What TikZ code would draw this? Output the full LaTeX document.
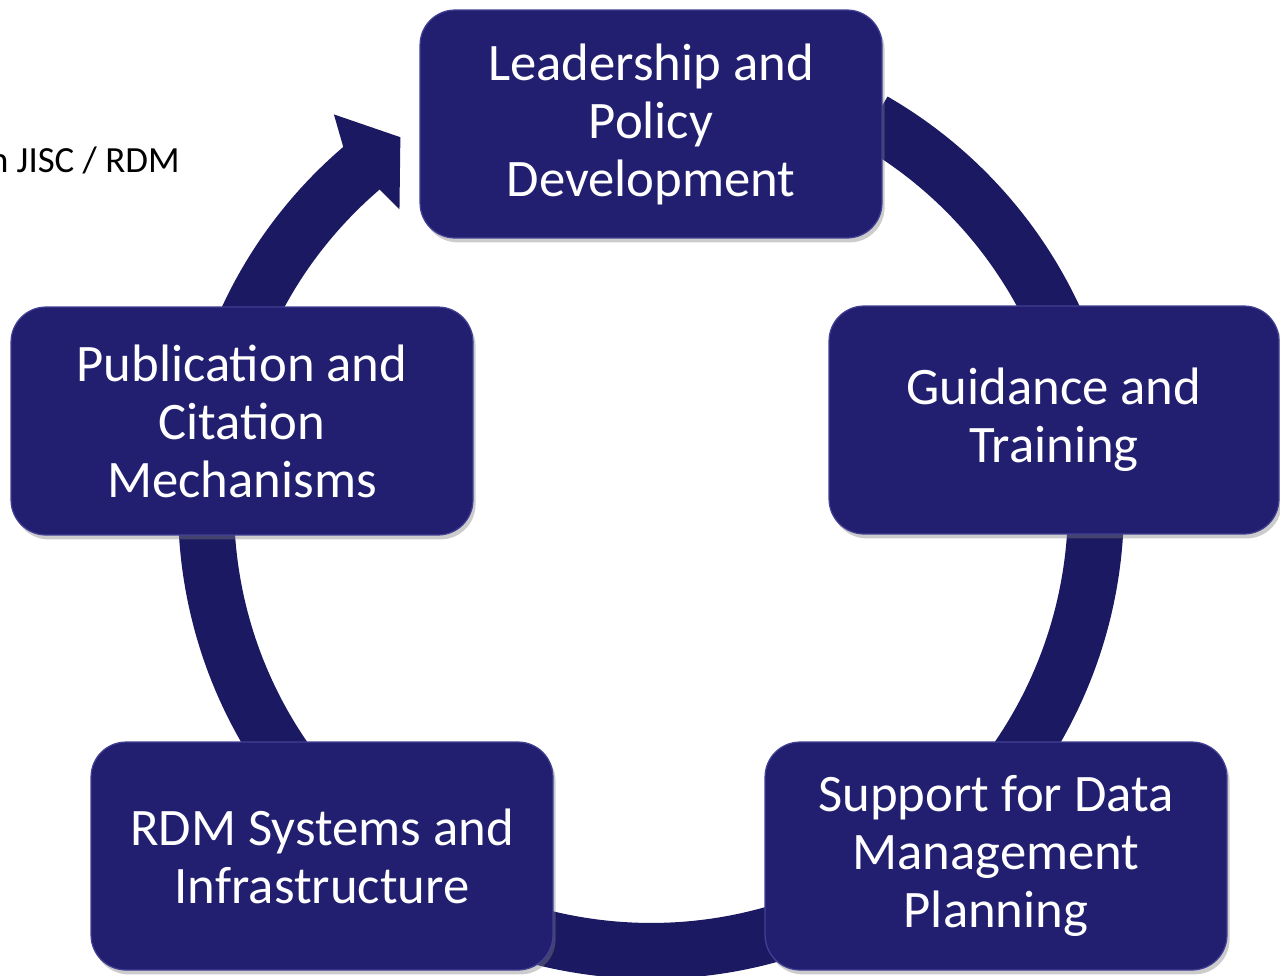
\documentclass[tikz,border=0pt]{standalone}
\usepackage{fontspec}
\setmainfont{Carlito}
\usepackage{xcolor}
\usepackage{tikz}
\usetikzlibrary{positioning, calc, shadows}
\definecolor{ringblue}{RGB}{28,25,99}
\definecolor{boxblue}{RGB}{34,31,112}
\definecolor{boxrim}{RGB}{66,64,148}

\begin{document}
\begin{tikzpicture}[
    x=0.02cm, y=0.02cm,
    box/.style={draw=boxrim, line width=0.7pt, fill=boxblue, rounded corners=0.7cm, minimum width=9.24cm, minimum height=4.56cm, align=center, text=white, font=\fontsize{30}{33}\selectfont, drop shadow={shadow xshift=1.5pt, shadow yshift=-2.5pt, opacity=0.4}},
    ring/.style={draw=ringblue, line width=1.12cm}
]
    \useasboundingbox (0,0) rectangle (1280,-975);
    \coordinate (c) at (651,-506);

    % ring with its arrow head
    \draw[ring] ($(c)+(130:8.9cm)$) arc[start angle=130, end angle=420, radius=8.9cm];
    \fill[ringblue] ($(c)+(130.6:9.46cm)$) -- ($(c)+(129:10.08cm)$) -- ($(c)+(124.2:8.92cm)$)
        -- ($(c)+(130.3:7.78cm)$) -- ($(c)+(130.6:8.34cm)$) -- cycle;

    \node[box] (lead) at (651,-124) {Leadership and\\Policy\\Development};
    \node[box, minimum width=9cm] (guide) at (1054,-420) {Guidance and\\Training};
    \node[box] (dmp) at (996,-856) {Support for Data\\Management\\Planning};
    \node[box] (rdm) at (322,-856) {RDM Systems and\\Infrastructure};
    \node[box] (pub) at (242,-421) {Publication and\\Citation\\Mechanisms};

    \node[anchor=base east, inner sep=0pt, font=\fontsize{21}{25}\selectfont] (src) at (180,-172) {n JISC / RDM};
\end{tikzpicture}
\end{document}
